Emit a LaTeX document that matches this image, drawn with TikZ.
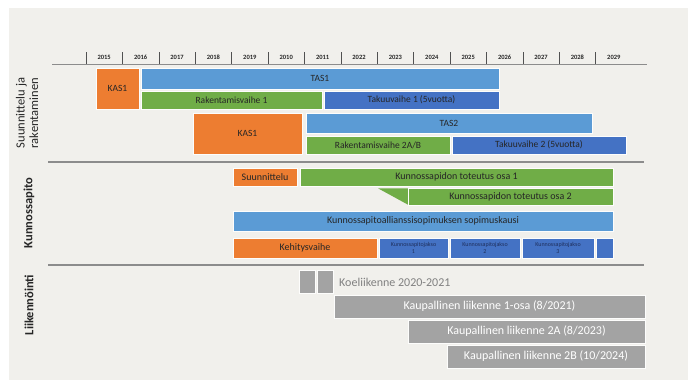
\documentclass[tikz,border=0pt]{standalone}
\usepackage{fontspec}
\setmainfont{Carlito}
\definecolor{bg}{HTML}{F1F0EC}
\definecolor{cor}{HTML}{ED7D31}
\definecolor{clb}{HTML}{5B9BD5}
\definecolor{cgr}{HTML}{70AD47}
\definecolor{cdb}{HTML}{4472C4}
\definecolor{cgy}{HTML}{A3A3A3}
\definecolor{txt}{HTML}{262626}
\definecolor{navy}{HTML}{1F2F5C}
\definecolor{rule}{HTML}{8C8C8C}
\newcommand{\ganttbar}[7]{\node[#6, minimum width={#4pt-#2pt}, minimum height={#5pt-#3pt}] (#1) at ({(#2+#4)/2},{(#3+#5)/2}) {#7};}
\begin{document}
\begin{tikzpicture}[x=1pt,y=-1pt,
  barbox/.style={inner sep=0pt, outer sep=0pt, draw=white!85!bg, line width=0.6pt, text=txt},
  s1/.style={barbox, font=\fontsize{9.5}{10}\selectfont},
  s2/.style={barbox, font=\fontsize{10}{11}\selectfont},
  s3/.style={barbox, fill=cgy, text=white, font=\fontsize{12}{13}\selectfont},
  jakso/.style={barbox, fill=cdb, text=navy, align=center, font=\fontsize{6}{6.5}\selectfont},
  yearlbl/.style={font=\bfseries\fontsize{6.5}{7}\selectfont, text=txt, inner sep=0pt},
  tick/.style={draw=txt!80, line width=0.6pt},
  divider/.style={draw=rule, line width=1.3pt},
  sidelbl/.style={rotate=90, text=txt, align=center, inner sep=0pt, font=\fontsize{12.5}{13.5}\selectfont}]
\useasboundingbox (0,0) rectangle (688,380);
\fill[white] (0,0) rectangle (688,380);
\fill[bg] (9,8) rectangle (688,380);

% year axis
\foreach \i/\yr in {0/2015,1/2016,2/2017,3/2018,4/2019,5/2010,6/2011,7/2022,8/2023,9/2024,10/2025,11/2026,12/2027,13/2028,14/2029}{
  \node[yearlbl] (yr\i) at ({86+36.4*(\i+0.5)},57) {\yr};
  \draw[tick] ({86+36.4*\i},52) -- ({86+36.4*\i},64);
}
\coordinate (axL) at (52,64);
\coordinate (axR) at (647,64);
\draw[draw=rule, line width=1pt] (axL) -- (axR);

% side labels
\node[sidelbl] (lab1) at (27,113) {Suunnittelu ja\\rakentaminen};
\node[sidelbl, font=\bfseries\fontsize{12.5}{13.5}\selectfont] (lab2) at (29,213) {Kunnossapito};
\node[sidelbl, font=\bfseries\fontsize{12.5}{13.5}\selectfont] (lab3) at (29,305) {Liikennöinti};

% dividers
\coordinate (d1L) at (48,162); \coordinate (d1R) at (644,162);
\coordinate (d2L) at (48,265); \coordinate (d2R) at (644,265);
\draw[divider] (d1L) -- (d1R);
\draw[divider] (d2L) -- (d2R);

% section 1
\ganttbar{kas1}{96}{68}{139}{109}{s1, fill=cor}{KAS1}
\ganttbar{tas1}{141}{68}{499}{89}{s1, fill=clb}{TAS1}
\ganttbar{rak1}{141}{91}{322}{109}{s1, fill=cgr}{Rakentamisvaihe 1}
\ganttbar{tak1}{324}{91}{499}{109}{s1, fill=cdb}{Takuuvaihe 1 (5vuotta)}
\ganttbar{kas2}{193}{113}{302}{154}{s1, fill=cor}{KAS1}
\ganttbar{tas2}{306}{113}{592}{133}{s1, fill=clb}{TAS2}
\ganttbar{rak2}{306}{136}{450}{154}{s1, fill=cgr}{Rakentamisvaihe 2A/B}
\ganttbar{tak2}{452}{136}{626}{154}{s1, fill=cdb}{Takuuvaihe 2 (5vuotta)}

% section 2
\ganttbar{suun}{233}{168}{297}{186}{s2, fill=cor}{Suunnittelu}
\ganttbar{osa1}{300}{168}{613}{186}{s2, fill=cgr}{Kunnossapidon toteutus osa 1}
\fill[cgr] (378,188.3) -- (408,188.3) -- (408,204.7) -- cycle;
\ganttbar{osa2}{408}{188}{613}{205}{s2, fill=cgr}{Kunnossapidon toteutus osa 2}
\ganttbar{kausi}{233}{211}{613}{231}{s2, fill=clb}{Kunnossapitoallianssisopimuksen sopimuskausi}
\ganttbar{kehi}{233}{238}{377}{258}{s2, fill=cor}{Kehitysvaihe}
\ganttbar{j1}{379}{238}{448}{258}{jakso}{Kunnossapitojakso\\1}
\ganttbar{j2}{450}{238}{520}{258}{jakso}{Kunnossapitojakso\\2}
\ganttbar{j3}{522}{238}{594}{258}{jakso}{Kunnossapitojakso\\3}
\ganttbar{j4}{596}{238}{613}{258}{jakso}{}

% section 3
\ganttbar{sq1}{299}{270}{315}{293}{s3}{}
\ganttbar{sq2}{317}{270}{333}{293}{s3}{}
\node[anchor=west, inner sep=0pt, text=black!50, font=\fontsize{12}{13}\selectfont] (koe) at (339,282) {Koeliikenne 2020-2021};
\ganttbar{k1}{334}{295}{645}{318}{s3}{Kaupallinen liikenne 1-osa (8/2021)}
\ganttbar{k2}{408}{320}{645}{343}{s3}{Kaupallinen liikenne 2A (8/2023)}
\ganttbar{k3}{447}{345}{645}{368}{s3}{Kaupallinen liikenne 2B (10/2024)}
\end{tikzpicture}
\end{document}
